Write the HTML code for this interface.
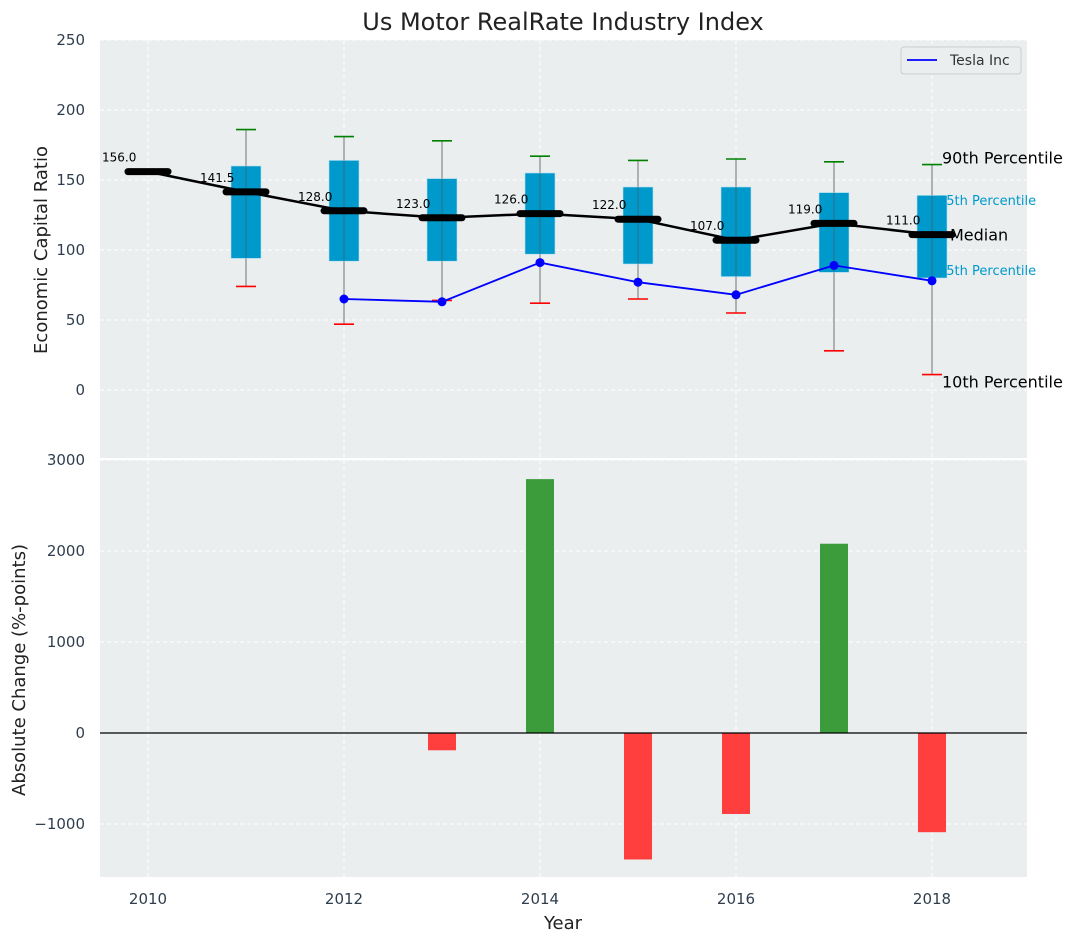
<!DOCTYPE html>
<html><head><meta charset="utf-8"><style>
body{margin:0;background:#fff;}
svg{font-family:"DejaVu Sans","Liberation Sans",sans-serif;}
</style></head><body>
<svg id="c" width="1077" height="942" xmlns="http://www.w3.org/2000/svg"></svg>
<script>
const years=[2010,2011,2012,2013,2014,2015,2016,2017,2018];
const medians=[156,141.5,128,123,126,122,107,119,111];
const q1=[null,94,92,92,97,90,81,84,80];
const q3=[null,160,164,151,155,145,145,141,139];
const p90=[null,186,181,178,167,164,165,163,161];
const p10=[null,74,47,64,62,65,55,28,11];
const teslaYears=[2012,2013,2014,2015,2016,2017,2018];
const teslaVals=[65,63,91,77,68,89,78];
const changeYears=[2013,2014,2015,2016,2017,2018];
const changeVals=[-190,2790,-1390,-890,2080,-1090];
const topTicks=[0,50,100,150,200,250];
const botTicks=[-1000,0,1000,2000,3000];
const xTicks=[2010,2012,2014,2016,2018];

const NS="http://www.w3.org/2000/svg",svg=document.getElementById('c');
function el(t,a,p){const e=document.createElementNS(NS,t);for(const k in a)e.setAttribute(k,a[k]);(p||svg).appendChild(e);return e;}
function tx(s,a,p){const e=el('text',a,p);e.textContent=s;return e;}
const X=v=>148+(v-2010)*98;
const YT=v=>390-v*1.4;
const YB=v=>733-v*0.091;
const L=100,R=1027;

const bgT=el('rect',{x:L,y:40,width:R-L,height:418,fill:'#eaeeef'});

const bgB=el('rect',{x:L,y:460,width:R-L,height:417,fill:'#eaeeef'});


xTicks.forEach(v=>{
 el('line',{x1:X(v),x2:X(v),y1:40,y2:458,stroke:'#fff','stroke-dasharray':'4,3','stroke-width':1});
 el('line',{x1:X(v),x2:X(v),y1:460,y2:877,stroke:'#fff','stroke-dasharray':'4,3','stroke-width':1});
 const t=tx(v,{x:X(v),y:904,'font-size':15,fill:'#2f3e4e','text-anchor':'middle'});
 
});
topTicks.forEach(v=>{
 el('line',{x1:L,x2:R,y1:YT(v),y2:YT(v),stroke:'#fff','stroke-dasharray':'4,3'});
 const t=tx(v,{x:85,y:YT(v)+5,'font-size':15,fill:'#2f3e4e','text-anchor':'end'});
 
});
botTicks.forEach(v=>{
 el('line',{x1:L,x2:R,y1:YB(v),y2:YB(v),stroke:'#fff','stroke-dasharray':'4,3'});
 const t=tx(v<0?'\u22121000':v,{x:85,y:YB(v)+5,'font-size':15,fill:'#2f3e4e','text-anchor':'end'});
 
});
el('line',{x1:L,x2:R,y1:459,y2:459,stroke:'#fff','stroke-width':2});

const lx=X(2018);
// labels under the box
[['75th Percentile',lx+6,205],['25th Percentile',lx+6,275]].forEach(a=>{
 const t=tx(a[0],{x:a[1],y:a[2],'font-size':13,fill:'#0099cc'});
 
});

years.forEach((y,i)=>{
 if(q1[i]==null)return;
 const cx=X(y);
 const w=el('line',{x1:cx,x2:cx,y1:YT(p90[i]),y2:YT(p10[i]),stroke:'#888','stroke-width':1.2});
 
 const b=el('rect',{x:cx-15,y:YT(q3[i]),width:30,height:YT(q1[i])-YT(q3[i]),fill:'#0099cc',stroke:'#b5e0f0','stroke-width':0.6});
 
 el('line',{x1:cx,x2:cx,y1:YT(q3[i]),y2:YT(q1[i]),stroke:'#555','stroke-width':1,opacity:0.6});
 const c1=el('line',{x1:cx-10,x2:cx+10,y1:YT(p90[i]),y2:YT(p90[i]),stroke:'green','stroke-width':1.6});
 
 const c2=el('line',{x1:cx-10,x2:cx+10,y1:YT(p10[i]),y2:YT(p10[i]),stroke:'red','stroke-width':1.6});
 
});
const ml=el('polyline',{points:years.map((y,i)=>X(y)+','+YT(medians[i])).join(' '),fill:'none',stroke:'#000','stroke-width':2.5});

years.forEach((y,i)=>{
 const m=el('line',{x1:X(y)-20,x2:X(y)+20,y1:YT(medians[i]),y2:YT(medians[i]),stroke:'#000','stroke-width':7,'stroke-linecap':'round'});
 
 const t=tx(medians[i].toFixed(1),{x:X(y)-46,y:YT(medians[i])-10,'font-size':12,fill:'#000'});
 
});
const tl=el('polyline',{points:teslaYears.map((y,i)=>X(y)+','+YT(teslaVals[i])).join(' '),fill:'none',stroke:'blue','stroke-width':1.8});

teslaYears.forEach((y,i)=>{
 const p=el('circle',{cx:X(y),cy:YT(teslaVals[i]),r:4.5,fill:'blue'});
 
});
[['90th Percentile',lx+10,YT(p90[8])-1],['Median',lx+18,YT(medians[8])+6],['10th Percentile',lx+10,YT(p10[8])+13]].forEach(a=>{
 const t=tx(a[0],{x:a[1],y:a[2],'font-size':16,fill:'#000'});
 
});
changeYears.forEach((y,i)=>{
 const v=changeVals[i];
 const b=el('rect',{x:X(y)-14,y:Math.min(YB(v),YB(0)),width:28,height:Math.abs(YB(v)-YB(0)),fill:v>=0?'#3c9c3c':'#ff3e3e'});
 
});
el('line',{x1:L,x2:R,y1:YB(0),y2:YB(0),stroke:'#000','stroke-width':1.2});

const lg=el('g',{});

el('rect',{x:901,y:47,width:120,height:27,fill:'#eaeeef',stroke:'#ccc',rx:3},lg);
el('line',{x1:907,x2:937,y1:60,y2:60,stroke:'blue','stroke-width':1.8},lg);
tx('Tesla Inc',{x:950,y:65,'font-size':14,fill:'#333'},lg);

const ti=tx('Us Motor RealRate Industry Index',{x:563,y:30,'font-size':24,fill:'#222','text-anchor':'middle'});

const yt=tx('Economic Capital Ratio',{x:0,y:0,'font-size':18,fill:'#222','text-anchor':'middle',transform:'translate(47,250) rotate(-90)'});

const yb=tx('Absolute Change (%-points)',{x:0,y:0,'font-size':18,fill:'#222','text-anchor':'middle',transform:'translate(25,670) rotate(-90)'});

const xt=tx('Year',{x:563,y:929,'font-size':18,fill:'#222','text-anchor':'middle'});

</script>
</body></html>
